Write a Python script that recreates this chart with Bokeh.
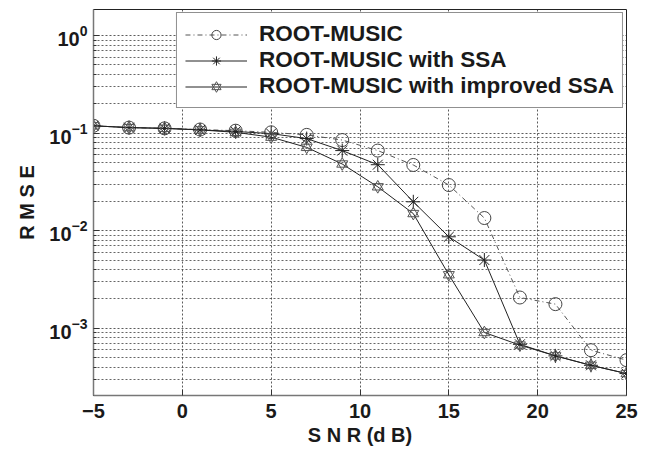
from bokeh.plotting import figure
from bokeh.models import Range1d, FixedTicker, SingleIntervalTicker, Legend, LegendItem
from bokeh.embed import file_html
from bokeh.resources import INLINE

snr = [-5, -3, -1, 1, 3, 5, 7, 9, 11, 13, 15, 17, 19, 21, 23, 25]
rmse_root_music = [0.119, 0.114, 0.112, 0.109, 0.106, 0.102, 0.096, 0.085, 0.0663,
                   0.0472, 0.0294, 0.0135, 0.00207, 0.00177, 0.000597, 0.000472]
rmse_ssa = [0.119, 0.114, 0.112, 0.108, 0.104, 0.099, 0.088, 0.0663, 0.0475,
            0.0198, 0.00867, 0.00501, 0.000686, 0.000522, 0.000418, 0.000344]
rmse_improved = [0.119, 0.114, 0.112, 0.108, 0.102, 0.091, 0.0715, 0.0483, 0.0282,
                 0.0150, 0.00354, 0.000906, 0.000674, 0.000522, 0.000418, 0.000344]

labels = ["ROOT-MUSIC", "ROOT-MUSIC with SSA", "ROOT-MUSIC with improved SSA"]
x_ticks_interval = 5
y_major = [1e-3, 1e-2, 1e-1, 1.0]
y_minor = [m * 10.0 ** k for k in range(-4, 1) for m in range(2, 10)]

FONT = "Liberation Sans"

p = figure(width=648, height=454, x_range=Range1d(-5, 25), y_range=Range1d(2.05e-4, 1.85),
           y_axis_type="log", output_backend="svg", toolbar_location=None,
           min_border_left=93, min_border_right=22, min_border_top=9, min_border_bottom=59)
p.background_fill_color = "white"
p.border_fill_color = "white"
p.outline_line_color = "#222222"
p.outline_line_width = 1

# grids
p.xaxis.ticker = SingleIntervalTicker(interval=x_ticks_interval, num_minor_ticks=0)
p.yaxis.ticker = FixedTicker(ticks=y_major, minor_ticks=y_minor)
p.xgrid.grid_line_color = "#333333"
p.xgrid.grid_line_dash = "2 2"
p.xgrid.grid_line_alpha = 0.8
p.ygrid.grid_line_color = "#333333"
p.ygrid.grid_line_dash = "2 2"
p.ygrid.grid_line_alpha = 0.8
p.ygrid.minor_grid_line_color = "#333333"
p.ygrid.minor_grid_line_dash = "2 2"
p.ygrid.minor_grid_line_alpha = 0.75

for ax in (p.xaxis[0], p.yaxis[0]):
    ax.axis_line_color = "#777777"
    ax.axis_line_width = 1.5
    ax.major_tick_in = 6
    ax.major_tick_out = 0
    ax.minor_tick_in = 3
    ax.minor_tick_out = 0
    ax.major_tick_line_color = "#333333"
    ax.minor_tick_line_color = "#333333"
    ax.major_label_text_font = FONT
    ax.major_label_text_font_style = "bold"
    ax.major_label_text_color = "#1a1a1a"
    ax.axis_label_text_font = FONT
    ax.axis_label_text_font_style = "bold"
    ax.axis_label_text_color = "#1a1a1a"

p.xaxis.minor_tick_line_color = None
p.xaxis.major_label_text_font_size = "20px"
p.xaxis.major_label_standoff = 8
p.xaxis.axis_label = "S N R (d B)"
p.xaxis.axis_label_text_font_size = "20px"
p.xaxis.axis_label_standoff = 3

p.yaxis.major_label_text_font_size = "20px"
p.yaxis.major_label_standoff = 6
p.yaxis.axis_label = "R M S E"
p.yaxis.axis_label_text_font_size = "20px"
p.yaxis.axis_label_standoff = 8

# series
l1 = p.line(snr, rmse_root_music, line_color="#555555", line_width=1, line_dash="5 3 1 3")
m1 = p.scatter(snr, rmse_root_music, marker="circle", size=13, fill_color=None,
               line_color="#444444", line_width=1)

l2 = p.line(snr, rmse_ssa, line_color="#222222", line_width=1)
m2 = p.scatter(snr, rmse_ssa, marker="asterisk", size=14, line_color="#222222", line_width=1)

l3 = p.line(snr, rmse_improved, line_color="#222222", line_width=1)
m3a = p.scatter(snr, rmse_improved, marker="triangle", size=11, fill_color=None,
                line_color="#555555", line_width=1)
m3b = p.scatter(snr, rmse_improved, marker="inverted_triangle", size=11, fill_color=None,
                line_color="#555555", line_width=1)

legend = Legend(items=[
    LegendItem(label=labels[0], renderers=[l1, m1]),
    LegendItem(label=labels[1], renderers=[l2, m2]),
    LegendItem(label=labels[2], renderers=[l3, m3a, m3b]),
], location="top_right")
legend.margin = 3
legend.padding = 8
legend.spacing = 0
legend.glyph_width = 62
legend.glyph_height = 23
legend.label_height = 23
legend.label_standoff = 12
legend.label_text_font = FONT
legend.label_text_font_style = "bold"
legend.label_text_font_size = "22.5px"
legend.label_text_color = "#1a1a1a"
legend.border_line_color = "#222222"
legend.border_line_width = 1
legend.background_fill_color = "white"
legend.background_fill_alpha = 1.0
p.add_layout(legend)

open("out.html", "w").write(file_html(p, INLINE))
